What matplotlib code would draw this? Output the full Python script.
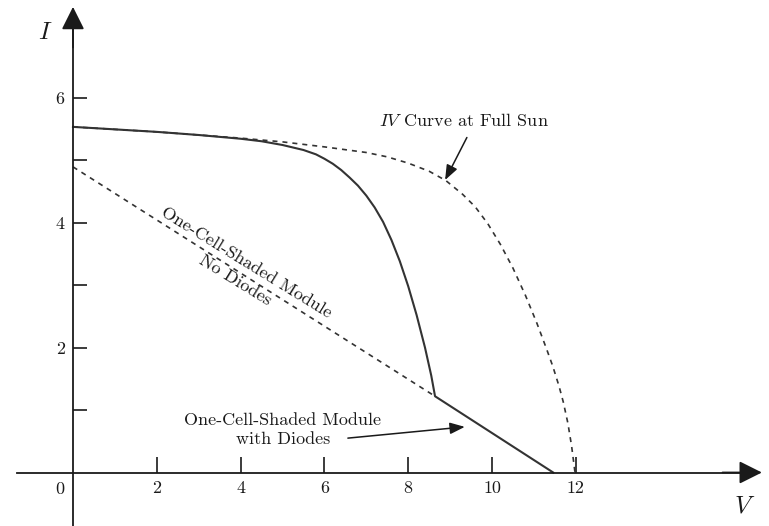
import matplotlib
matplotlib.use('Agg')
import matplotlib.pyplot as plt

plt.rcParams['font.family'] = ['cmr10', 'DejaVu Serif']
plt.rcParams['mathtext.fontset'] = 'cm'
plt.rcParams['axes.formatter.use_mathtext'] = True

# full-sun IV curve (V, I)
v_full = [0, 1, 2, 3, 4, 5, 6, 7, 7.5, 8.0, 8.5, 8.9, 9.3, 9.6, 9.9, 10.2,
          10.5, 10.8, 11.07, 11.3, 11.45, 11.6, 11.7, 11.81, 11.9, 11.98]
i_full = [5.53, 5.49, 5.45, 5.40, 5.35, 5.29, 5.21, 5.12, 5.05, 4.95, 4.82,
          4.67, 4.45, 4.25, 3.98, 3.65, 3.27, 2.83, 2.39, 1.98, 1.70, 1.38,
          1.13, 0.79, 0.42, 0.0]

# one cell shaded, with bypass diodes
v_diode = [0, 1, 2, 3, 4, 4.5, 5, 5.5, 5.8, 6.0, 6.2, 6.4, 6.6, 6.8, 7.0,
           7.2, 7.4, 7.6, 7.8, 8.0, 8.2, 8.4, 8.55, 8.64, 11.46]
i_diode = [5.53, 5.49, 5.45, 5.40, 5.34, 5.30, 5.24, 5.16, 5.09, 5.02, 4.94,
           4.84, 4.72, 4.59, 4.43, 4.24, 4.01, 3.72, 3.38, 2.98, 2.52, 2.00,
           1.55, 1.22, 0.0]

# one cell shaded, no diodes
v_nodiode = [0, 8.64]
i_nodiode = [4.89, 1.22]

x_ticks = [2, 4, 6, 8, 10, 12]
y_ticks = [1, 2, 3, 4, 5, 6]
y_labels = ['', '2', '', '4', '', '6']

ink = '#1a1a1a'
fig = plt.figure(figsize=(7.69, 5.26), dpi=100)
ax = fig.add_axes([0, 0, 1, 1])
ax.set_xlim(-1.742, 16.61)
ax.set_ylim(-0.856, 7.56)

# axes through the origin
for side in ['top', 'right']:
    ax.spines[side].set_visible(False)
ax.spines['left'].set_position(('data', 0))
ax.spines['bottom'].set_position(('data', 0))
ax.spines['left'].set_bounds(-0.856, 7.1)
ax.spines['bottom'].set_bounds(-1.34, 16.0)
for side in ['left', 'bottom']:
    ax.spines[side].set_color(ink)
    ax.spines[side].set_linewidth(1.3)

head = '-|>,head_length=1.4,head_width=0.7'
ax.annotate('', xy=(16.44, 0), xytext=(15.5, 0),
            arrowprops=dict(arrowstyle=head, color=ink, lw=1.3, mutation_scale=10,
                            shrinkA=0, shrinkB=0))
ax.annotate('', xy=(0, 7.45), xytext=(0, 6.8),
            arrowprops=dict(arrowstyle=head, color=ink, lw=1.3, mutation_scale=10,
                            shrinkA=0, shrinkB=0))

ax.set_xticks(x_ticks)
ax.set_xticklabels([str(t) for t in x_ticks])
ax.set_yticks(y_ticks)
ax.set_yticklabels(y_labels)
ax.tick_params(axis='x', direction='in', length=11.5, width=1.2, color=ink,
               labelsize=13, pad=6, labelcolor=ink)
ax.tick_params(axis='y', direction='in', length=10, width=1.2, color=ink,
               labelsize=13, pad=6, labelcolor=ink)
ax.text(-0.31, -0.27, '0', fontsize=13, color=ink, ha='center', va='center')

ax.text(-0.67, 7.04, '$I$', fontsize=18, color=ink, ha='center', va='center')
ax.text(16.04, -0.55, '$V$', fontsize=18, color=ink, ha='center', va='center')

# curves
ax.plot(v_full, i_full, color='#333333', lw=1.2, linestyle=(0, (3, 3)))
ax.plot(v_diode, i_diode, color='#333333', lw=1.5)
ax.plot(v_nodiode, i_nodiode, color='#333333', lw=1.2, linestyle=(0, (3, 3)))

# labels
ax.text(9.33, 5.64, '$IV$ Curve at Full Sun', fontsize=13, color=ink,
        ha='center', va='center')
ax.annotate('', xy=(8.88, 4.68), xytext=(9.4, 5.36),
            arrowprops=dict(arrowstyle='-|>,head_length=0.9,head_width=0.35',
                            color=ink, lw=1.1, mutation_scale=10,
                            shrinkA=0, shrinkB=0))

ax.text(4.0, 3.22, 'One-Cell-Shaded Module\nNo Diodes', fontsize=13,
        color=ink, ha='center', va='center', rotation=-31.6,
        rotation_mode='anchor', linespacing=1.45, multialignment='center')

ax.text(5.01, 0.68, 'One-Cell-Shaded Module\nwith Diodes', fontsize=13,
        color=ink, ha='center', va='center', linespacing=1.3,
        multialignment='center')
ax.annotate('', xy=(9.35, 0.73), xytext=(6.56, 0.55),
            arrowprops=dict(arrowstyle='-|>,head_length=0.9,head_width=0.35',
                            color=ink, lw=1.1, mutation_scale=10,
                            shrinkA=0, shrinkB=0))

fig.savefig('out.png', dpi=100)
